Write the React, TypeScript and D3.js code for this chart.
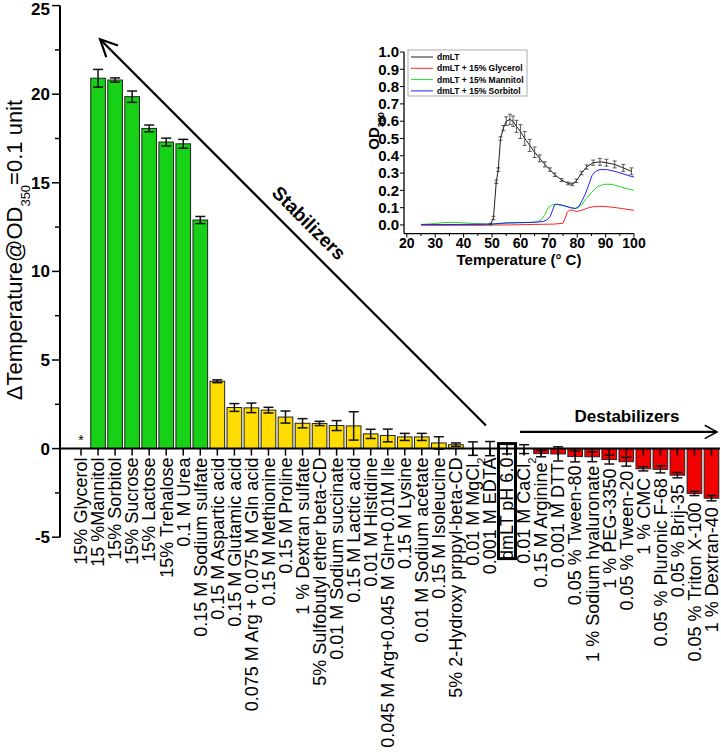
import React from "react";
import * as d3 from "d3";

const categories = [
  "15% Glycerol", "15 %Mannitol", "15% Sorbitol", "15% Sucrose", "15% Lactose",
  "15% Trehalose", "0.1 M Urea", "0.15 M Sodium sulfate", "0.15 M Aspartic acid",
  "0.15 M Glutamic acid", "0.075 M Arg + 0.075 M Gln acid", "0.15 M Methionine",
  "0.15 M Proline", "1 % Dextran sulfate", "5% Sulfobutyl ether beta-CD",
  "0.01 M Sodium succinate", "0.15 M Lactic acid", "0.01 M Histidine",
  "0.045 M Arg+0.045 M Gln+0.01M Ile", "0.15 M Lysine", "0.01 M Sodium acetate",
  "0.15 M Isoleucine", "5% 2-Hydroxy prppyl-beta-CD", "0.01 M MgCl_2",
  "0.001 M EDTA", "dmLT pH 6.0", "0.01 M CaCl_2", "0.15 M Arginine",
  "0.001 M DTT", "0.05 % Tween-80", "1 % Sodium hyaluronate", "1 % PEG-3350",
  "0.05 % Tween-20", "1 % CMC", "0.05 % Pluronic F-68", "0.05 % Brij-35",
  "0.05 % Triton X-100", "1 % Dextran-40",
];
const deltaT = [
  0, 20.9, 20.8, 19.86, 18.07, 17.3, 17.2, 12.9, 3.8, 2.32, 2.3, 2.17, 1.78, 1.43,
  1.42, 1.3, 1.28, 0.83, 0.74, 0.66, 0.66, 0.32, 0.22, 0, 0, 0, -0.03, -0.28, -0.3,
  -0.45, -0.46, -0.62, -0.74, -1.14, -1.17, -1.5, -2.53, -2.8,
];
const deltaErr = [
  0, 0.5, 0.12, 0.32, 0.19, 0.22, 0.25, 0.2, 0.08, 0.22, 0.27, 0.16, 0.34, 0.26,
  0.12, 0.28, 0.8, 0.26, 0.36, 0.2, 0.2, 0.35, 0.1, 0.38, 0.4, 0.3, 0.25, 0.18, 0.4,
  0.3, 0.28, 0.25, 0.25, 0.12, 0.2, 0.15, 0.12, 0.15,
];
const groups = [
  "ref", "strong", "strong", "strong", "strong", "strong", "strong", "strong",
  "mild", "mild", "mild", "mild", "mild", "mild", "mild", "mild", "mild", "mild",
  "mild", "mild", "mild", "mild", "mild", "none", "none", "none", "none",
  "destab", "destab", "destab", "destab", "destab", "destab", "destab", "destab",
  "destab", "destab", "destab",
];
const yTicks = [-5, 0, 5, 10, 15, 20, 25];

// inset: OD350 vs temperature
const tempBuffer = [25, 30, 35, 40, 45, 48, 49.5, 50.5, 51.5, 52.2, 53, 54, 55, 56.3, 57.4, 58.6, 60, 61.5, 63.3, 65, 66.8, 68.6, 70.4, 72.1, 74.5, 76.8, 78.3, 79.7, 81.5, 83.3, 85.6, 88, 90.3, 93.2, 96.2, 99.1];
const odBuffer = [0, 0, 0, 0, 0, 0, 0.005, 0.04, 0.25, 0.32, 0.5, 0.56, 0.6, 0.61, 0.6, 0.57, 0.54, 0.5, 0.46, 0.42, 0.385, 0.35, 0.32, 0.29, 0.26, 0.24, 0.235, 0.255, 0.3, 0.335, 0.36, 0.365, 0.36, 0.35, 0.33, 0.31];
const odBufferErr = [0, 0, 0, 0, 0, 0, 0.005, 0.01, 0.01, 0.01, 0.01, 0.015, 0.025, 0.03, 0.03, 0.035, 0.04, 0.04, 0.035, 0.03, 0.02, 0.015, 0.01, 0.01, 0.008, 0.008, 0.008, 0.01, 0.01, 0.012, 0.015, 0.02, 0.02, 0.02, 0.02, 0.02];
const tempGlycerol = [25, 35, 45, 55, 65, 72, 75, 75.8, 76.5, 77.3, 78.5, 79.7, 81, 82.5, 84, 85.6, 87.5, 89.5, 92, 95, 97.5, 100];
const odGlycerol = [0, 0, 0, 0, 0.003, 0.005, 0.01, 0.04, 0.075, 0.085, 0.085, 0.078, 0.082, 0.09, 0.1, 0.105, 0.108, 0.107, 0.103, 0.097, 0.09, 0.085];
const tempMannitol = [25, 30, 33, 36, 40, 45, 50, 55, 60, 64, 66, 67.4, 68.6, 69.8, 71, 72.5, 75, 77.6, 79.7, 81.5, 83.3, 85.2, 87, 89.4, 92.3, 95.3, 97.5, 100];
const odMannitol = [0.003, 0.008, 0.014, 0.015, 0.012, 0.008, 0.004, 0.01, 0.012, 0.015, 0.02, 0.03, 0.06, 0.1, 0.115, 0.12, 0.112, 0.1, 0.095, 0.115, 0.155, 0.19, 0.22, 0.235, 0.235, 0.22, 0.21, 0.2];
const tempSorbitol = [25, 30, 40, 50, 55, 60, 65, 68, 69.5, 70.5, 71.2, 72, 73, 75.3, 77.6, 79.3, 80.5, 81.7, 82.9, 84, 85.2, 86.4, 88, 90.3, 93.3, 96.2, 99.1, 100];
const odSorbitol = [0.002, 0.002, 0.003, 0.005, 0.012, 0.014, 0.015, 0.02, 0.03, 0.05, 0.08, 0.115, 0.12, 0.112, 0.1, 0.095, 0.105, 0.14, 0.18, 0.23, 0.285, 0.31, 0.32, 0.32, 0.31, 0.295, 0.28, 0.278];
const insetSeries = ["dmLT", "dmLT + 15% Glycerol", "dmLT + 15% Mannitol", "dmLT + 15% Sorbitol"];
const insetXTicks = [20, 30, 40, 50, 60, 70, 80, 90, 100];
const insetYTicks = [0, 0.1, 0.2, 0.3, 0.4, 0.5, 0.6, 0.7, 0.8, 0.9, 1.0];

const FONT = "'Liberation Sans', Arial, Helvetica, sans-serif";
const groupFill = { strong: "#17d117", mild: "#ffdd00", destab: "#f20000" };
const seriesColor = ["#222222", "#ff2222", "#22dd22", "#2020ff"];

const margin = { top: 5.6, left: 60, axisBottom: 537.2 };

function arrowHead(tip, from, len, ang) {
  const a = Math.atan2(from[1] - tip[1], from[0] - tip[0]);
  const p1 = [tip[0] + len * Math.cos(a + ang), tip[1] + len * Math.sin(a + ang)];
  const p2 = [tip[0] + len * Math.cos(a - ang), tip[1] + len * Math.sin(a - ang)];
  return `M${p1[0]},${p1[1]}L${tip[0]},${tip[1]}L${p2[0]},${p2[1]}`;
}

function Label({ text, ...rest }) {
  // "_2" marks a subscript
  const parts = text.split("_");
  return (
    <text {...rest}>
      {parts[0]}
      {parts[1] && (
        <tspan fontSize={11} baselineShift="sub">{parts[1]}</tspan>
      )}
    </text>
  );
}

export default function App() {
  const x = d3.scaleBand().domain(categories).range([72.5, 720]).paddingInner(0.14).paddingOuter(0.07);
  const y = d3.scaleLinear().domain([-5, 25]).range([margin.axisBottom, margin.top]);
  const bw = x.bandwidth();
  const cx = (c) => x(c) + bw / 2;
  const y0 = y(0);
  const minorTicks = d3.range(-2.5, 25, 5);

  // inset scales
  const ix = d3.scaleLinear().domain([19, 100]).range([404, 634]);
  const iy = d3.scaleLinear().domain([-0.05, 1.0]).range([233.6, 52]);
  const line = d3.line().x((d) => ix(d[0])).y((d) => iy(d[1]));
  const curves = [
    d3.zip(tempBuffer, odBuffer),
    d3.zip(tempGlycerol, odGlycerol),
    d3.zip(tempMannitol, odMannitol),
    d3.zip(tempSorbitol, odSorbitol),
  ];

  const stabTail = [cx("0.001 M EDTA") - 4, y(1.3)];
  const stabTip = [cx("15 %Mannitol") + 2, y(23.1)];
  const destY = y(0.94);
  const destFrom = [cx("0.01 M CaCl_2") - 4, destY];
  const destTip = [x.range()[1] - 3, destY];
  const dmLT = "dmLT pH 6.0";

  // labels under negative bars start below the bar end
  const labelTop = (i) => Math.max(y0 + 9, groups[i] === "destab" ? y(deltaT[i]) + 9 : 0);

  return (
    <svg width={721} height={754} style={{ position: "absolute", left: 0, top: 0, background: "#fff" }} fontFamily={FONT}>
      {/* bars */}
      {categories.map((c, i) => {
        const g = groups[i];
        if (!groupFill[g]) return null;
        const v = deltaT[i];
        return (
          <rect key={c} x={x(c)} width={bw} y={Math.min(y(v), y0)} height={Math.abs(y(v) - y0)}
            fill={groupFill[g]} stroke="#222" strokeWidth={1} />
        );
      })}
      {/* error bars */}
      {categories.map((c, i) => {
        const e = deltaErr[i];
        if (!e) return null;
        const v = deltaT[i];
        const xc = cx(c);
        return (
          <g key={c} stroke="#111" strokeWidth={1.5}>
            <line x1={xc} x2={xc} y1={y(v - e)} y2={y(v + e)} />
            <line x1={xc - 5} x2={xc + 5} y1={y(v + e)} y2={y(v + e)} />
            <line x1={xc - 5} x2={xc + 5} y1={y(v - e)} y2={y(v - e)} />
          </g>
        );
      })}
      <text x={cx("15% Glycerol")} y={y0 - 4} textAnchor="middle" fontSize={14}>*</text>

      {/* y axis */}
      <line x1={margin.left} x2={margin.left} y1={y(25)} y2={y(-5)} stroke="#000" strokeWidth={2} />
      {yTicks.map((t) => (
        <g key={t}>
          <line x1={margin.left - 8} x2={margin.left} y1={y(t)} y2={y(t)} stroke="#000" strokeWidth={1.5} />
          <text x={margin.left - 10} y={Math.max(y(t), 9)} dy="0.35em" textAnchor="end" fontSize={17} fontWeight="bold">{t}</text>
        </g>
      ))}
      {minorTicks.map((t) => (
        <line key={t} x1={margin.left - 5} x2={margin.left} y1={y(t)} y2={y(t)} stroke="#000" strokeWidth={1.5} />
      ))}
      <text transform={`translate(22,250) rotate(-90)`} textAnchor="middle" fontSize={22}>
        ΔTemperature@OD<tspan fontSize={13} baselineShift="sub">350</tspan>=0.1 unit
      </text>

      {/* x axis */}
      <line x1={margin.left} x2={720} y1={y0} y2={y0} stroke="#000" strokeWidth={2} />
      {categories.map((c) => (
        <line key={c} x1={cx(c)} x2={cx(c)} y1={y0} y2={y0 + 7} stroke="#000" strokeWidth={1.5} />
      ))}
      {categories.map((c, i) => (
        <Label key={c} text={c} transform={`translate(${cx(c)},${labelTop(i)}) rotate(-90)`} dy="0.35em"
          textAnchor="end" fontSize={18} />
      ))}
      <rect x={cx(dmLT) - 8.5} y={y0 - 5} width={17} height={115} fill="none" stroke="#000" strokeWidth={3} />

      {/* annotations */}
      <g stroke="#000" strokeWidth={2.2} fill="none">
        <line x1={stabTail[0]} y1={stabTail[1]} x2={stabTip[0]} y2={stabTip[1]} />
        <path d={arrowHead(stabTip, stabTail, 19, 0.45)} />
        <line x1={destFrom[0]} y1={destY} x2={destTip[0]} y2={destY} />
        <path d={arrowHead(destTip, destFrom, 14, 0.5)} strokeWidth={1.5} />
      </g>
      <text transform={`translate(309,223) rotate(45)`} textAnchor="middle" dy="0.35em" fontSize={19} fontWeight="bold">Stabilizers</text>
      <text x={627} y={422} textAnchor="middle" fontSize={17} fontWeight="bold">Destabilizers</text>

      {/* inset */}
      <g>
        {curves.map((pts, k) => (
          <path key={k} d={line(pts)} fill="none" stroke={seriesColor[k]} strokeWidth={1} />
        ))}
        <g stroke="#333" strokeWidth={0.8}>
          {tempBuffer.map((t, i) => {
            const e = odBufferErr[i];
            if (!e) return null;
            return (
              <g key={t}>
                <line x1={ix(t)} x2={ix(t)} y1={iy(odBuffer[i] - e)} y2={iy(odBuffer[i] + e)} />
                <line x1={ix(t) - 2} x2={ix(t) + 2} y1={iy(odBuffer[i] + e)} y2={iy(odBuffer[i] + e)} />
                <line x1={ix(t) - 2} x2={ix(t) + 2} y1={iy(odBuffer[i] - e)} y2={iy(odBuffer[i] - e)} />
              </g>
            );
          })}
        </g>
        <line x1={ix(19)} x2={ix(19)} y1={iy(1.0)} y2={iy(-0.05)} stroke="#000" strokeWidth={1.3} />
        <line x1={ix(19)} x2={ix(100)} y1={iy(-0.05)} y2={iy(-0.05)} stroke="#000" strokeWidth={1.3} />
        {insetYTicks.map((t) => (
          <g key={t}>
            <line x1={ix(19) - 4} x2={ix(19)} y1={iy(t)} y2={iy(t)} stroke="#000" strokeWidth={1} />
            <text x={ix(19) - 5} y={iy(t)} dy="0.35em" textAnchor="end" fontSize={15} fontWeight="bold">{t.toFixed(1)}</text>
          </g>
        ))}
        {insetXTicks.map((t) => (
          <g key={t}>
            <line x1={ix(t)} x2={ix(t)} y1={iy(-0.05)} y2={iy(-0.05) + 4} stroke="#000" strokeWidth={1} />
            <text x={ix(t)} y={iy(-0.05) + 14} textAnchor="middle" fontSize={14} fontWeight="bold">{t}</text>
          </g>
        ))}
        {insetXTicks.slice(0, -1).map((t) => (
          <line key={t} x1={ix(t + 5)} x2={ix(t + 5)} y1={iy(-0.05)} y2={iy(-0.05) + 2.5} stroke="#000" strokeWidth={1} />
        ))}
        <text x={ix(59.5)} y={265} textAnchor="middle" fontSize={15} fontWeight="bold">Temperature (° C)</text>
        <text transform={`translate(379,131) rotate(-90)`} textAnchor="middle" fontSize={15} fontWeight="bold">
          OD<tspan fontSize={9} baselineShift="sub">350</tspan>
        </text>
        <rect x={408} y={50} width={119} height={46} fill="#fff" stroke="#999" strokeWidth={0.8} />
        {insetSeries.map((s, k) => (
          <g key={s}>
            <line x1={411} x2={433} y1={57 + k * 11.3} y2={57 + k * 11.3} stroke={seriesColor[k]} strokeWidth={1} />
            <text x={437} y={57 + k * 11.3} dy="0.35em" fontSize={8.5} fontWeight="bold">{s}</text>
          </g>
        ))}
      </g>
    </svg>
  );
}
